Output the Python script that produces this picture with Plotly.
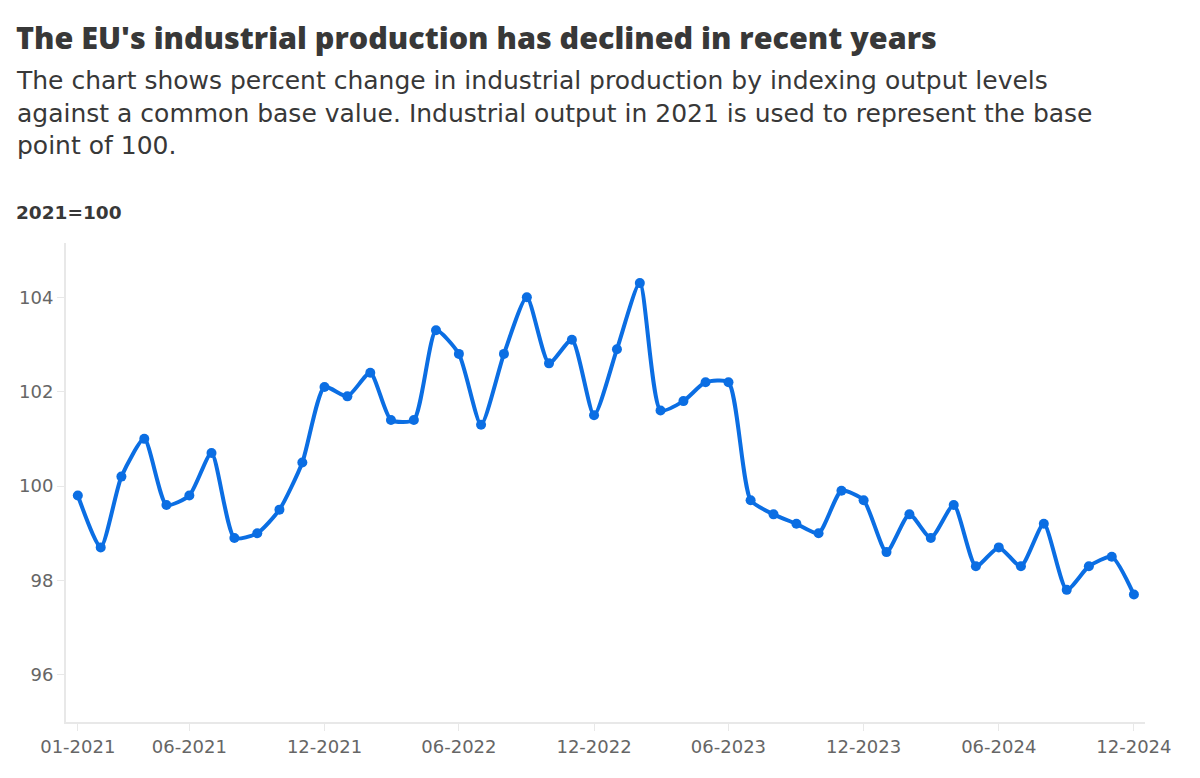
import plotly.graph_objects as go

months = ["2021-01","2021-02","2021-03","2021-04","2021-05","2021-06","2021-07","2021-08","2021-09","2021-10","2021-11","2021-12",
          "2022-01","2022-02","2022-03","2022-04","2022-05","2022-06","2022-07","2022-08","2022-09","2022-10","2022-11","2022-12",
          "2023-01","2023-02","2023-03","2023-04","2023-05","2023-06","2023-07","2023-08","2023-09","2023-10","2023-11","2023-12",
          "2024-01","2024-02","2024-03","2024-04","2024-05","2024-06","2024-07","2024-08","2024-09","2024-10","2024-11","2024-12"]
index_values = [99.8, 98.7, 100.2, 101.0, 99.6, 99.8, 100.7, 98.9, 99.0, 99.5, 100.5, 102.1,
                101.9, 102.4, 101.4, 101.4, 103.3, 102.8, 101.3, 102.8, 104.0, 102.6, 103.1, 101.5,
                102.9, 104.3, 101.6, 101.8, 102.2, 102.2, 99.7, 99.4, 99.2, 99.0, 99.9, 99.7,
                98.6, 99.4, 98.9, 99.6, 98.3, 98.7, 98.3, 99.2, 97.8, 98.3, 98.5, 97.7]
tick_months = ["2021-01","2021-06","2021-12","2022-06","2022-12","2023-06","2023-12","2024-06","2024-12"]
tick_labels = ["01-2021","06-2021","12-2021","06-2022","12-2022","06-2023","12-2023","06-2024","12-2024"]
y_ticks = [96, 98, 100, 102, 104]

x_dates = [m + "-01" for m in months]
tick_dates = [m + "-01" for m in tick_months]

W, H = 1184, 762
L, R, T, B = 58, 47, 235, 48
PW, PH = W - L - R, H - T - B
TITLE_FONT = "Open Sans, Inter, sans-serif"
BODY_FONT = "DejaVu Sans, Open Sans, sans-serif"

fig = go.Figure()
fig.add_trace(go.Scatter(
    x=x_dates, y=index_values, mode="lines+markers",
    line=dict(color="#0b6ee3", width=4, shape="spline", smoothing=0.6),
    marker=dict(color="#0b6ee3", size=10),
    hoverinfo="x+y", showlegend=False,
))

fig.update_layout(
    width=W, height=H,
    paper_bgcolor="white", plot_bgcolor="white",
    margin=dict(l=L, r=R, t=T, b=B, autoexpand=False),
    font=dict(family=BODY_FONT, color="#333"),
    xaxis=dict(
        type="date", range=["2020-12-16", "2024-12-16"],
        tickvals=tick_dates, ticktext=tick_labels,
        showgrid=False, zeroline=False,
        showline=True, linecolor="#e8e8e8", linewidth=2,
        ticks="outside", ticklen=7, tickcolor="#e8e8e8", tickwidth=1,
        tickfont=dict(size=18, color="#666", family=BODY_FONT),
    ),
    yaxis=dict(
        range=[95, 105.15], tickvals=y_ticks,
        showgrid=False, zeroline=False,
        showline=True, linecolor="#e8e8e8", linewidth=2,
        ticks="outside", ticklen=7, tickcolor="#e8e8e8", tickwidth=1,
        tickfont=dict(size=18, color="#666", family=BODY_FONT),
    ),
    annotations=[
        dict(text="The EU's industrial production has declined in recent years",
             xref="paper", yref="paper", x=-(L - 6) / PW, y=1 + (T - 29) / PH,
             xanchor="left", yanchor="middle", showarrow=False,
             font=dict(size=30.5, color="#383838", family=TITLE_FONT, weight=800)),
        dict(text="The chart shows percent change in industrial production by indexing output levels<br>"
                  "against a common base value. Industrial output in 2021 is used to represent the base<br>"
                  "point of 100.",
             xref="paper", yref="paper", x=-(L - 6) / PW, y=1 + (T - 56) / PH,
             xanchor="left", yanchor="top", align="left", showarrow=False,
             font=dict(size=25, color="#383838", family=BODY_FONT)),
        dict(text="<b>2021=100</b>",
             xref="paper", yref="paper", x=-(L - 6) / PW, y=1 + (T - 204) / PH,
             xanchor="left", yanchor="middle", showarrow=False,
             font=dict(size=18.5, color="#383838", family=BODY_FONT)),
    ],
)

fig.write_html("out.html")
